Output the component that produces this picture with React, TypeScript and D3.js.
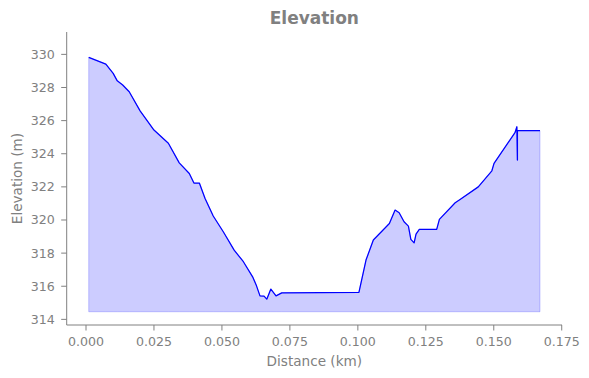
import React from "react";
import * as d3 from "d3";

const distanceKm = [0.001, 0.0073, 0.0100, 0.0115, 0.0135, 0.0159, 0.0199, 0.0250, 0.0303, 0.0343, 0.0380, 0.0397, 0.0417, 0.0438, 0.0468, 0.0505, 0.0545, 0.0579, 0.0613, 0.0626, 0.0640, 0.0655, 0.0665, 0.0680, 0.0699, 0.0720, 0.1004, 0.1030, 0.1057, 0.1116, 0.1137, 0.1152, 0.1170, 0.1186, 0.1195, 0.1207, 0.1214, 0.1226, 0.1290, 0.1300, 0.1358, 0.1376, 0.1443, 0.1493, 0.1501, 0.1578, 0.1585, 0.1587, 0.1587, 0.1670];
const elevationM = [329.82, 329.41, 328.85, 328.40, 328.15, 327.74, 326.59, 325.43, 324.63, 323.45, 322.81, 322.23, 322.23, 321.30, 320.24, 319.29, 318.18, 317.48, 316.57, 316.08, 315.42, 315.40, 315.22, 315.83, 315.42, 315.60, 315.63, 317.58, 318.79, 319.79, 320.60, 320.44, 319.89, 319.63, 318.83, 318.62, 319.15, 319.43, 319.43, 320.04, 321.04, 321.24, 322.00, 322.97, 323.42, 325.27, 325.63, 323.62, 325.39, 325.39];
const fillBase = 314.46;
const xTicks = [0, 0.025, 0.05, 0.075, 0.1, 0.125, 0.15, 0.175];
const yTicks = [314, 316, 318, 320, 322, 324, 326, 328, 330];

const W = 589, H = 378;
const L = 66.7, R = 562, T = 32, B = 325;
const gray = "#808080";
const font = "DejaVu Sans, sans-serif";

export default function App() {
  const x = d3.scaleLinear().domain([-0.0071, 0.1751]).range([L, R]);
  const y = d3.scaleLinear().domain([313.66, 331.35]).range([B, T]);
  const pts = distanceKm.map((d, i) => [d, elevationM[i]] as [number, number]);
  const area = d3.area<[number, number]>().x(d => x(d[0])).y0(y(fillBase)).y1(d => y(d[1]));
  const line = d3.line<[number, number]>().x(d => x(d[0])).y(d => y(d[1]));
  return (
    <svg width={W} height={H} style={{ position: "absolute", left: 0, top: 0 }} fontFamily={font}>
      <rect width={W} height={H} fill="#fff" />
      <path d={area(pts) || ""} fill="#0000ff" fillOpacity={0.2} stroke="#0000ff" strokeOpacity={0.2} strokeWidth={1} />
      <path d={line(pts) || ""} fill="none" stroke="#0000ff" strokeWidth={1.25} strokeLinejoin="round" />
      <line x1={L} x2={L} y1={T} y2={B} stroke={gray} strokeWidth={1} />
      <line x1={L} x2={R} y1={B} y2={B} stroke={gray} strokeWidth={1} />
      {xTicks.map(t => (
        <g key={"x" + t} transform={`translate(${x(t)},${B})`}>
          <line y2={5.5} stroke={gray} />
          <text y={21} textAnchor="middle" fontSize={12.6} fill={gray}>{d3.format(".3f")(t)}</text>
        </g>
      ))}
      {yTicks.map(t => (
        <g key={"y" + t} transform={`translate(${L},${y(t)})`}>
          <line x2={-5.5} stroke={gray} />
          <text x={-12} dy="0.35em" textAnchor="end" fontSize={12.6} fill={gray}>{t}</text>
        </g>
      ))}
      <text x={(L + R) / 2} y={366} textAnchor="middle" fontSize={13.6} fill={gray}>Distance (km)</text>
      <text transform={`translate(22,${(T + B) / 2}) rotate(-90)`} textAnchor="middle" fontSize={13.6} fill={gray}>Elevation (m)</text>
      <text x={(L + R) / 2} y={24} textAnchor="middle" fontSize={17} fontWeight="bold" fill={gray}>Elevation</text>
    </svg>
  );
}
